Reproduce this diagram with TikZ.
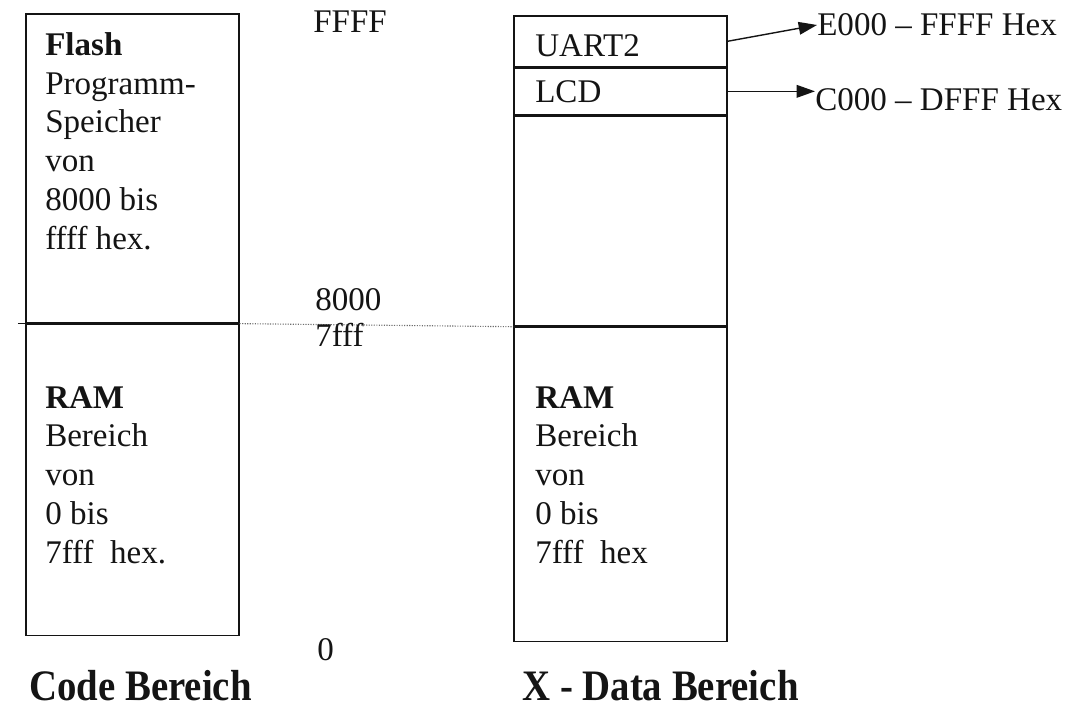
\documentclass[tikz,border=0pt]{standalone}
\usepackage{fontspec}
\setmainfont{Liberation Serif}
\usetikzlibrary{positioning, arrows.meta}
\definecolor{ink}{RGB}{20,20,20}
\definecolor{scangrey}{RGB}{110,110,110}

\begin{document}
\begin{tikzpicture}[x=0.025cm, y=-0.025cm, ink,
  region/.style={draw=ink, line width=1.1pt, inner sep=0, minimum width=5.325cm},
  memtext/.style={inner sep=0, align=left, font=\fontsize{23.5}{27.6}\selectfont},
  caption/.style={inner sep=0, font=\fontsize{27.6}{33}\selectfont\bfseries},
  pointer/.style={line width=1pt, -{Triangle[length=13pt, width=9pt]}}]
  \useasboundingbox (0,0) rectangle (1079,709);
  % code memory
  \node[region, minimum height=7.725cm, anchor=north west] (flash) at (25,13) {};
  \node[region, minimum height=7.775cm, below=0pt of flash] (coderam) {};
  \draw[line width=1.1pt] ([xshift=-0.175cm]flash.south west) -- (flash.south east);
  % xdata memory
  \node[region, minimum height=1.275cm, anchor=north west] (uart) at (513,15) {};
  \node[region, minimum height=1.15cm, below=0pt of uart] (lcd) {};
  \node[region, minimum height=5.25cm, below=0pt of lcd] (xfree) {};
  \node[region, minimum height=7.85cm, below=0pt of xfree] (xram) {};
  \draw[scangrey, line width=0.8pt, densely dotted] (flash.south east) -- (xfree.south west);

  \node[memtext, anchor=north west] (flashtxt) at (45,32)
    {\textbf{Flash}\\Programm-\\Speicher\\von\\8000 bis\\ffff hex.};
  \node[memtext, anchor=north west] (coderamtxt) at (45,386)
    {\textbf{RAM}\\Bereich\\von\\0 bis\\7fff\ \ hex.};
  \node[memtext, anchor=north west] (xramtxt) at (535,386)
    {\textbf{RAM}\\Bereich\\von\\0 bis\\7fff\ \ hex};
  \node[memtext, anchor=west] (uarttxt) at (535,46) {UART2};
  \node[memtext, anchor=west] (lcdtxt) at (535,92) {LCD};

  \foreach \adr/\x/\y/\n in {FFFF/313/22/adrtop, 8000/315/300/adrmid,
                             7fff/315/335/adrlow, 0/317/650/adrzero} {
    \node[memtext, anchor=west] (\n) at (\x,\y) {\adr};
  }

  \node[memtext, anchor=west] (uartrange) at (817,25) {E000 -- FFFF Hex};
  \node[memtext, anchor=west] (lcdrange) at (815,100) {C000 -- DFFF Hex};
  \draw[pointer] (uart.east) -- (uartrange.west);
  \draw[pointer] (lcd.east) -- (lcd.east -| lcdrange.west);

  \node[caption, anchor=west] (codecap) at (29,686) {\scalebox{1}[1.12]{Code Bereich}};
  \node[caption, anchor=west] (xdatacap) at (522,686) {\scalebox{1}[1.12]{X - Data Bereich}};
\end{tikzpicture}
\end{document}
